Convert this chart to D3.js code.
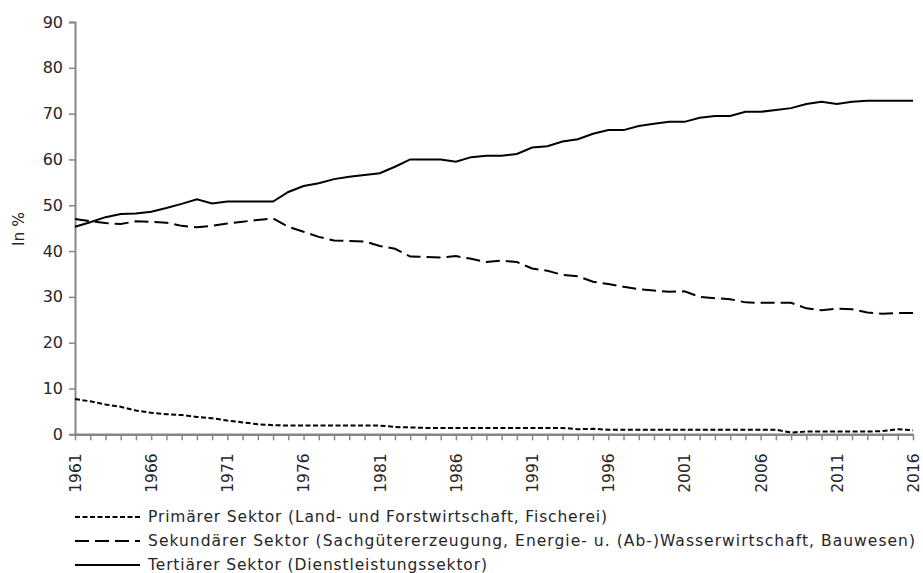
<!DOCTYPE html>
<html>
<head>
<meta charset="utf-8">
<script src="https://cdn.jsdelivr.net/npm/d3@7"></script>
<style>
  body { margin: 0; background: #fff; }
  svg text { font-family: "DejaVu Sans", sans-serif; fill: #262626; }
</style>
</head>
<body>
<svg id="chart" width="923" height="573"></svg>
<script>
// Jahre 1961-2016
var years = d3.range(1961, 2017);

var primaer = [7.7, 7.2, 6.5, 6.0, 5.2, 4.7, 4.4, 4.2, 3.8, 3.5,
               3.0, 2.6, 2.2, 2.0, 1.9, 1.9, 1.9, 1.9, 1.9, 1.9,
               1.9, 1.6, 1.5, 1.4, 1.4, 1.4, 1.4, 1.4, 1.4, 1.4,
               1.4, 1.4, 1.4, 1.1, 1.2, 1.0, 1.0, 1.0, 1.0, 1.0,
               1.0, 1.0, 1.0, 1.0, 1.0, 1.0, 1.0, 0.4, 0.6, 0.6,
               0.6, 0.6, 0.6, 0.7, 1.1, 0.9];

var sekundaer = [47.0, 46.5, 46.1, 45.9, 46.5, 46.4, 46.2, 45.5, 45.2, 45.5,
                 46.0, 46.4, 46.8, 47.1, 45.3, 44.2, 43.1, 42.3, 42.2, 42.1,
                 41.1, 40.5, 38.8, 38.7, 38.6, 38.9, 38.3, 37.6, 37.9, 37.6,
                 36.2, 35.7, 34.8, 34.5, 33.3, 32.8, 32.2, 31.7, 31.4, 31.1,
                 31.2, 30.0, 29.7, 29.5, 28.8, 28.7, 28.7, 28.7, 27.5, 27.1,
                 27.4, 27.3, 26.6, 26.3, 26.5, 26.5];

var tertiaer = [45.3, 46.3, 47.4, 48.1, 48.2, 48.6, 49.4, 50.3, 51.3, 50.4,
                50.8, 50.8, 50.8, 50.8, 52.9, 54.2, 54.8, 55.7, 56.2, 56.6,
                57.0, 58.4, 60.0, 60.0, 60.0, 59.5, 60.5, 60.8, 60.8, 61.2,
                62.6, 62.9, 63.9, 64.4, 65.6, 66.4, 66.4, 67.3, 67.8, 68.2,
                68.2, 69.1, 69.5, 69.5, 70.4, 70.4, 70.8, 71.2, 72.1, 72.6,
                72.1, 72.6, 72.8, 72.8, 72.8, 72.8];

var yTicks = [0, 10, 20, 30, 40, 50, 60, 70, 80, 90];
var labelYears = [1961, 1966, 1971, 1976, 1981, 1986, 1991, 1996, 2001, 2006, 2011, 2016];

var serien = [
  {name: "Primärer Sektor (Land- und Forstwirtschaft, Fischerei)", values: primaer, dash: "5,2.5", len: 459},
  {name: "Sekundärer Sektor (Sachgütererzeugung, Energie- u. (Ab-)Wasserwirtschaft, Bauwesen)", values: sekundaer, dash: "14,6", len: 767},
  {name: "Tertiärer Sektor (Dienstleistungssektor)", values: tertiaer, dash: null, len: 339}
];

var svg = d3.select("#chart");
var axisColor = "#868686";

var x = d3.scaleLinear().domain([1961, 2016]).range([75, 913]);
var y = d3.scaleLinear().domain([0, 90]).range([434.3, 22]);

// y-Achse
var yAxis = svg.append("g")
    .attr("transform", "translate(75,0)")
    .call(d3.axisLeft(y).tickValues(yTicks).tickSize(6).tickPadding(6).tickFormat(d3.format("d")));
yAxis.select(".domain").attr("stroke", axisColor).attr("stroke-width", 2);
yAxis.selectAll(".tick line").attr("stroke", axisColor).attr("stroke-width", 1.5);
yAxis.selectAll(".tick text").style("font-size", "16px").attr("fill", "#262626");

// x-Achse
var xAxis = svg.append("g")
    .attr("transform", "translate(0,434.3)")
    .call(d3.axisBottom(x).tickValues(years).tickSize(6).tickSizeOuter(0)
      .tickFormat(function(d) { return labelYears.indexOf(d) >= 0 ? d : ""; }));
xAxis.select(".domain").attr("stroke", axisColor).attr("stroke-width", 2.5);
xAxis.selectAll(".tick line").attr("stroke", axisColor).attr("stroke-width", 1.5);
xAxis.selectAll(".tick text")
    .style("font-size", "15.5px")
    .attr("fill", "#262626")
    .attr("text-anchor", "end")
    .attr("transform", "rotate(-90)")
    .attr("x", -19)
    .attr("y", 0)
    .attr("dy", "0.35em");

// Achsentitel
svg.append("text")
    .attr("transform", "translate(24,229) rotate(-90)")
    .attr("text-anchor", "middle")
    .style("font-size", "15.5px")
    .text("In %");

// Linien
var line = d3.line()
    .x(function(d, i) { return x(years[i]); })
    .y(function(d) { return y(d); });

svg.selectAll(".serie")
    .data(serien)
    .enter().append("path")
    .attr("class", "serie")
    .attr("d", function(d) { return line(d.values); })
    .attr("fill", "none")
    .attr("stroke", "#000")
    .attr("stroke-width", 2)
    .attr("stroke-dasharray", function(d) { return d.dash; });

// Legende
var legend = svg.selectAll(".legend")
    .data(serien)
    .enter().append("g")
    .attr("class", "legend")
    .attr("transform", function(d, i) { return "translate(75," + (517 + i * 24) + ")"; });

legend.append("line")
    .attr("x1", 0).attr("x2", 65)
    .attr("stroke", "#000")
    .attr("stroke-width", 2)
    .attr("stroke-dasharray", function(d) { return d.dash; });

legend.append("text")
    .attr("x", 73)
    .attr("dy", "0.35em")
    .style("font-size", "15.5px")
    .attr("textLength", function(d) { return d.len; })
    .attr("lengthAdjust", "spacing")
    .text(function(d) { return d.name; });
</script>
</body>
</html>
